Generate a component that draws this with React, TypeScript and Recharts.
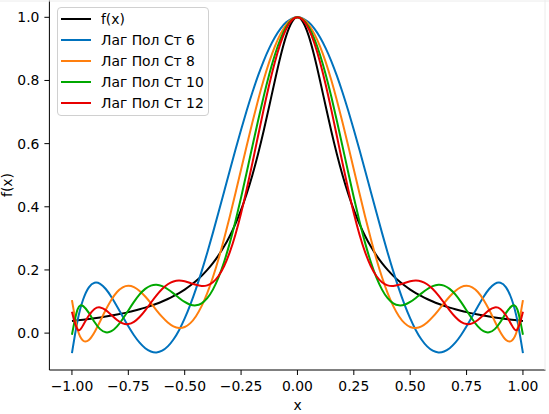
import { Line, LineChart, XAxis, YAxis } from "recharts";

document.body.style.margin = "0";

const xValues = [
  -1, -0.975, -0.95, -0.925, -0.9, -0.875, -0.85, -0.825, -0.8, -0.775, -0.75, -0.725, -0.7, -0.675, -0.65, -0.625,
  -0.6, -0.575, -0.55, -0.525, -0.5, -0.475, -0.45, -0.425, -0.4, -0.375, -0.35, -0.325, -0.3, -0.275, -0.25, -0.225,
  -0.2, -0.175, -0.15, -0.125, -0.1, -0.075, -0.05, -0.025, 0, 0.025, 0.05, 0.075, 0.1, 0.125, 0.15, 0.175, 0.2, 0.225,
  0.25, 0.275, 0.3, 0.325, 0.35, 0.375, 0.4, 0.425, 0.45, 0.475, 0.5, 0.525, 0.55, 0.575, 0.6, 0.625, 0.65, 0.675, 0.7,
  0.725, 0.75, 0.775, 0.8, 0.825, 0.85, 0.875, 0.9, 0.925, 0.95, 0.975, 1,
];

const fx = [
  0.03846, 0.04038, 0.04244, 0.04466, 0.04706, 0.04965, 0.05246, 0.05551, 0.05882, 0.06244, 0.06639, 0.07072, 0.07547,
  0.08071, 0.08649, 0.09289, 0.1, 0.10793, 0.11679, 0.12673, 0.13793, 0.15059, 0.16495, 0.1813, 0.2, 0.22145, 0.24615,
  0.27468, 0.30769, 0.34595, 0.39024, 0.44138, 0.5, 0.56637, 0.64, 0.7191, 0.8, 0.87671, 0.94118, 0.98462, 1, 0.98462,
  0.94118, 0.87671, 0.8, 0.7191, 0.64, 0.56637, 0.5, 0.44138, 0.39024, 0.34595, 0.30769, 0.27468, 0.24615, 0.22145, 0.2,
  0.1813, 0.16495, 0.15059, 0.13793, 0.12673, 0.11679, 0.10793, 0.1, 0.09289, 0.08649, 0.08071, 0.07547, 0.07072,
  0.06639, 0.06244, 0.05882, 0.05551, 0.05246, 0.04965, 0.04706, 0.04466, 0.04244, 0.04038, 0.03846,
];

const lag6 = [
  -0.06356, 0.04014, 0.10735, 0.14503, 0.15941, 0.15599, 0.13965, 0.11463, 0.08459, 0.05267, 0.0215, -0.00675, -0.03032,
  -0.04786, -0.05835, -0.06112, -0.05575, -0.04212, -0.02032, 0.00936, 0.04645, 0.09033, 0.14025, 0.19537, 0.25476,
  0.31744, 0.38239, 0.44857, 0.5149, 0.5804, 0.64401, 0.7048, 0.76185, 0.81431, 0.86142, 0.90249, 0.93692, 0.96422,
  0.98401, 0.99599, 1, 0.99599, 0.98401, 0.96422, 0.93692, 0.90249, 0.86142, 0.81431, 0.76185, 0.7048, 0.64401, 0.5804,
  0.5149, 0.44857, 0.38239, 0.31744, 0.25476, 0.19537, 0.14025, 0.09033, 0.04645, 0.00936, -0.02032, -0.04212, -0.05575,
  -0.06112, -0.05835, -0.04786, -0.03032, -0.00675, 0.0215, 0.05267, 0.08459, 0.11463, 0.13965, 0.15599, 0.15941,
  0.14503, 0.10735, 0.04014, -0.06356,
];

const lag8 = [
  0.10464, 0.01117, -0.02417, -0.02171, 0.00277, 0.03743, 0.07373, 0.10585, 0.1302, 0.14504, 0.14998, 0.14572, 0.13371,
  0.11596, 0.09471, 0.07236, 0.05126, 0.03361, 0.02136, 0.01616, 0.01926, 0.03157, 0.05357, 0.08536, 0.12664, 0.17677,
  0.23481, 0.29953, 0.36945, 0.44296, 0.51828, 0.5936, 0.66709, 0.73691, 0.80136, 0.85886, 0.90796, 0.94747, 0.97642,
  0.99407, 1, 0.99407, 0.97642, 0.94747, 0.90796, 0.85886, 0.80136, 0.73691, 0.66709, 0.5936, 0.51828, 0.44296, 0.36945,
  0.29953, 0.23481, 0.17677, 0.12664, 0.08536, 0.05357, 0.03157, 0.01926, 0.01616, 0.02136, 0.03361, 0.05126, 0.07236,
  0.09471, 0.11596, 0.13371, 0.14572, 0.14998, 0.14504, 0.1302, 0.10585, 0.07373, 0.03743, 0.00277, -0.02171, -0.02417,
  0.01117, 0.10464,
];

const lag10 = [
  -0.00533, 0.07532, 0.08554, 0.06405, 0.03518, 0.0126, 0.00252, 0.00607, 0.02132, 0.04463, 0.07183, 0.09888, 0.12242,
  0.14003, 0.15034, 0.15304, 0.14878, 0.13901, 0.12575, 0.11144, 0.09867, 0.09003, 0.08785, 0.09417, 0.11049, 0.13776,
  0.17636, 0.22599, 0.28578, 0.35429, 0.42959, 0.50938, 0.59103, 0.67181, 0.7489, 0.81955, 0.88125, 0.93174, 0.9692,
  0.99223, 1, 0.99223, 0.9692, 0.93174, 0.88125, 0.81955, 0.7489, 0.67181, 0.59103, 0.50938, 0.42959, 0.35429, 0.28578,
  0.22599, 0.17636, 0.13776, 0.11049, 0.09417, 0.08785, 0.09003, 0.09867, 0.11144, 0.12575, 0.13901, 0.14878, 0.15304,
  0.15034, 0.14003, 0.12242, 0.09888, 0.07183, 0.04463, 0.02132, 0.00607, 0.00252, 0.0126, 0.03518, 0.06405, 0.08554,
  0.07532, -0.00533,
];

const lag12 = [
  0.06768, 0.01124, 0.02555, 0.05556, 0.07645, 0.08131, 0.07273, 0.05712, 0.04132, 0.03075, 0.02857, 0.03568, 0.051,
  0.07217, 0.09607, 0.11952, 0.13976, 0.1548, 0.16365, 0.1664, 0.16413, 0.15878, 0.1529, 0.14938, 0.15115, 0.16089,
  0.18082, 0.21245, 0.25644, 0.31256, 0.37966, 0.45573, 0.53802, 0.62319, 0.70756, 0.78728, 0.85861, 0.91809, 0.96283,
  0.99059, 1, 0.99059, 0.96283, 0.91809, 0.85861, 0.78728, 0.70756, 0.62319, 0.53802, 0.45573, 0.37966, 0.31256, 0.25644,
  0.21245, 0.18082, 0.16089, 0.15115, 0.14938, 0.1529, 0.15878, 0.16413, 0.1664, 0.16365, 0.1548, 0.13976, 0.11952,
  0.09607, 0.07217, 0.051, 0.03568, 0.02857, 0.03075, 0.04132, 0.05712, 0.07273, 0.08131, 0.07645, 0.05556, 0.02555,
  0.01124, 0.06768,
];

const xTicks = [-1, -0.75, -0.5, -0.25, 0, 0.25, 0.5, 0.75, 1];
const yTicks = [0, 0.2, 0.4, 0.6, 0.8, 1.0];

const series = [
  { key: "f", name: "f(x)", color: "#000000" },
  { key: "l6", name: "Лаг Пол Ст 6", color: "#0072bd" },
  { key: "l8", name: "Лаг Пол Ст 8", color: "#ff7f0e" },
  { key: "l10", name: "Лаг Пол Ст 10", color: "#00a800" },
  { key: "l12", name: "Лаг Пол Ст 12", color: "#e80000" },
];

const data = xValues.map((x, i) => ({
  x,
  f: fx[i],
  l6: lag6[i],
  l8: lag8[i],
  l10: lag10[i],
  l12: lag12[i],
}));

const font = "'DejaVu Sans', sans-serif";
const tickStyle = { fill: "#000", fontSize: 13.9, fontFamily: font };
const minus = (s: string) => s.replace("-", "\u2212");

export default function App() {
  return (
    <div style={{ position: "relative", width: 549, height: 414, background: "#fff", fontFamily: font }}>
      <LineChart width={549} height={414} data={data} margin={{ top: 0.5, right: 3.5, left: 0, bottom: 0 }}>
        <XAxis
          dataKey="x"
          type="number"
          domain={[-1.1, 1.1]}
          allowDataOverflow
          ticks={xTicks}
          tickFormatter={(v: number) => minus(v.toFixed(2))}
          tick={tickStyle}
          tickSize={5}
          tickMargin={6}
          height={44}
          stroke="#000"
          interval={0}
        />
        <YAxis
          type="number"
          domain={[-0.1168, 1.0532]}
          allowDataOverflow
          ticks={yTicks}
          tickFormatter={(v: number) => minus(v.toFixed(1))}
          tick={tickStyle}
          tickSize={5}
          tickMargin={5}
          width={49.4}
          stroke="#000"
          interval={0}
        />
        {series.map((s) => (
          <Line
            key={s.key}
            type="natural"
            dataKey={s.key}
            name={s.name}
            stroke={s.color}
            strokeWidth={2}
            dot={false}
            activeDot={false}
            isAnimationActive={false}
          />
        ))}
      </LineChart>

      <svg width={549} height={414} style={{ position: "absolute", left: 0, top: 0, pointerEvents: "none" }}>
        <line x1={0} y1={1} x2={549} y2={1} stroke="#ececec" strokeWidth={1} />
        <line x1={545} y1={0} x2={545} y2={370} stroke="#ececec" strokeWidth={1} />
        <text x={297.7} y={410} textAnchor="middle" fontSize={13.9} fontFamily={font} fill="#000">
          x
        </text>
        <text
          x={12}
          y={185}
          textAnchor="middle"
          fontSize={13.9}
          fontFamily={font}
          fill="#000"
          transform="rotate(-90 12 185)"
        >
          f(x)
        </text>
      </svg>

      <div
        style={{
          position: "absolute",
          left: 56.7,
          top: 7.3,
          width: 152.6,
          height: 108.7,
          boxSizing: "border-box",
          border: "1px solid #d0d0d0",
          borderRadius: 4,
          background: "rgba(255,255,255,0.8)",
        }}
      >
        {series.map((s, i) => (
          <div key={s.key}>
            <div
              style={{
                position: "absolute",
                left: 3.3,
                top: 10.7 + i * 21 - 1,
                width: 30,
                height: 2,
                background: s.color,
              }}
            />
            <div
              style={{
                position: "absolute",
                left: 43.3,
                top: 10.7 + i * 21 - 9,
                fontSize: 13.9,
                lineHeight: "18px",
                color: "#000",
                whiteSpace: "nowrap",
              }}
            >
              {s.name}
            </div>
          </div>
        ))}
      </div>
    </div>
  );
}
